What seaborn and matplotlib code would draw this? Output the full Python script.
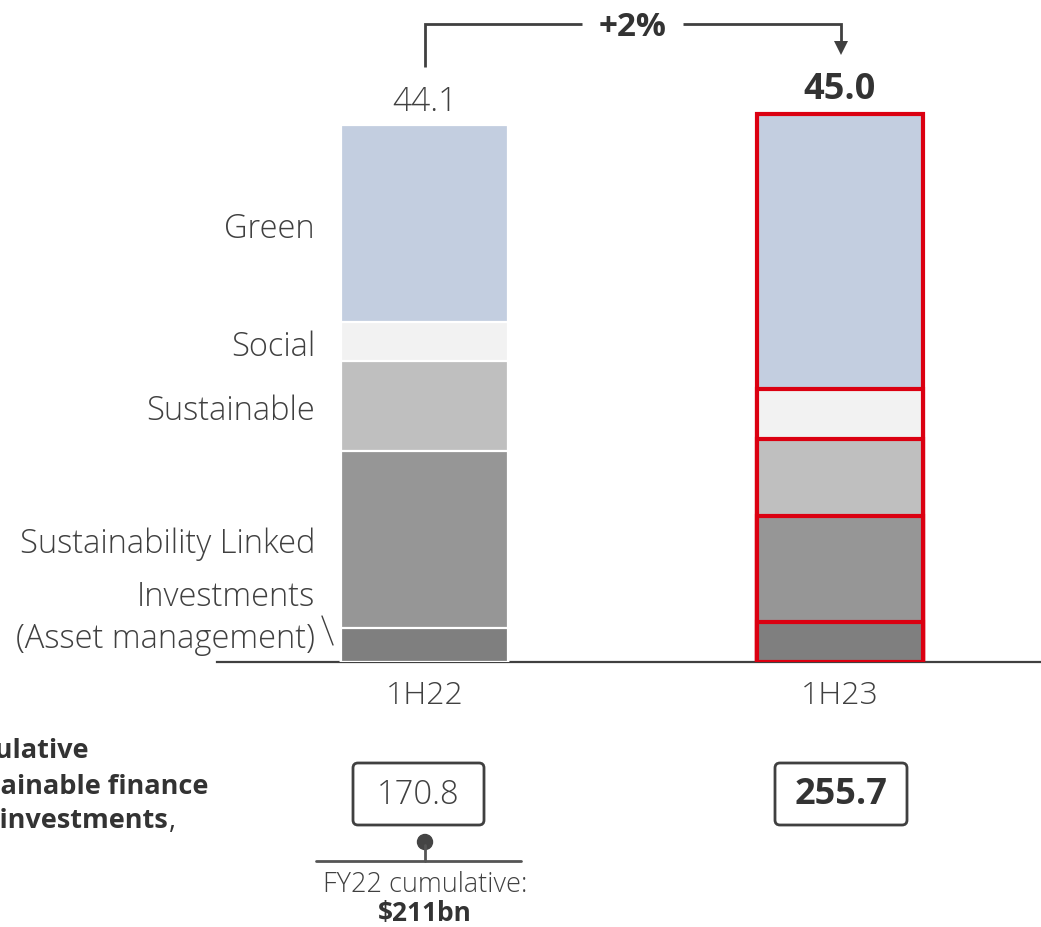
import matplotlib
matplotlib.use("Agg")
import matplotlib.pyplot as plt
from matplotlib.patches import FancyBboxPatch, Circle, Polygon
import seaborn as sns
import pandas as pd

# ---------------- data ----------------
periods = ["1H22", "1H23"]
investments = [2.8, 3.3]          # Investments (Asset management)
sust_linked = [14.5, 8.7]         # Sustainability Linked
sustainable = [7.4, 6.3]          # Sustainable
social = [3.2, 4.1]               # Social
green = [16.2, 22.6]              # Green
totals = [44.1, 45.0]
total_labels = ["44.1", "45.0"]
cumulative = ["170.8", "255.7"]
growth_label = "+2%"
fy22_label = "FY22 cumulative:"
fy22_value = "$211bn"
segment_names = ["Green", "Social", "Sustainable", "Sustainability Linked",
                 "Investments", "(Asset management)"]

sns.set_style("white")
FONT = ["Open Sans", "DejaVu Sans"]
plt.rcParams["font.family"] = FONT

W, H = 1041, 927
fig = plt.figure(figsize=(W / 100, H / 100), dpi=100)

TXT = "#404040"
DARK = "#333333"
RED = "#DB0011"
LW_T = 300  # light weight

px_per_unit = 12.18
ax = fig.add_axes([217 / W, (H - 662) / H, 824 / W, 662 / H])
ax.set_facecolor("none")

layers = [investments, sust_linked, sustainable, social, green]
colors = ["#7F7F7F", "#969696", "#BFBFBF", "#F2F2F2", "#C3CEE0"]
cum = []
run = [0.0, 0.0]
for lay in layers:
    run = [run[i] + lay[i] for i in range(2)]
    cum.append(list(run))

for idx in range(len(layers) - 1, -1, -1):
    df = pd.DataFrame({"period": periods, "value": cum[idx]})
    n_before = len(ax.patches)
    sns.barplot(data=df, x="period", y="value", color=colors[idx],
                saturation=1, width=0.4, ax=ax, errorbar=None)
    for p in ax.patches[n_before:]:
        cx = p.get_x() + p.get_width() / 2
        if cx < 0.5:
            p.set_edgecolor("white")
            p.set_linewidth(1.6)
        else:
            p.set_edgecolor(RED)
            p.set_linewidth(3.0)

a = -(424.5 - 217) / 415.5
ax.set_xlim(a, a + 824 / 415.5)
ax.set_ylim(0, 662 / px_per_unit)
ax.set_xlabel("")
ax.set_ylabel("")
ax.set_yticks([])
for s in ["left", "top", "right"]:
    ax.spines[s].set_visible(False)
ax.spines["bottom"].set_color(TXT)
ax.spines["bottom"].set_linewidth(1.6)
ax.spines["bottom"].set_zorder(0.5)
ax.tick_params(axis="x", length=0, pad=13, labelsize=23, labelcolor=TXT)
for lbl in ax.get_xticklabels():
    lbl.set_fontweight(LW_T)

ax.text(0, totals[0] + 0.45, total_labels[0], ha="center", va="bottom",
        fontsize=24, color=TXT, fontweight=LW_T)
ax.text(1, totals[1] + 0.5, total_labels[1], ha="center", va="bottom",
        fontsize=26, color=DARK, fontweight="bold")

# ---------------- overlay for annotations (pixel coords) ----------------
ov = fig.add_axes([0, 0, 1, 1], facecolor="none")
ov.set_xlim(0, W)
ov.set_ylim(H, 0)
ov.axis("off")

lab_y = [229, 347, 411, 544, 597, 639]
for name, y in zip(segment_names, lab_y):
    ov.text(315, y, name, ha="right", va="center", fontsize=23.5,
            color=TXT, fontweight=LW_T)
ov.plot([322, 333], [616, 645], color=TXT, lw=1.0)

lw = 2.0
ov.plot([425, 425, 582], [67, 24, 24], color=TXT, lw=lw,
        solid_joinstyle="miter", solid_capstyle="butt")
ov.plot([683, 841, 841], [24, 24, 42], color=TXT, lw=lw,
        solid_joinstyle="miter", solid_capstyle="butt")
ov.add_patch(Polygon([[834, 41], [848, 41], [841, 55]], closed=True,
                     color=TXT, lw=0))
ov.text(633, 27, growth_label, ha="center", va="center", fontsize=24,
        color=DARK, fontweight="bold")

for (x0, x1), txt, wt, fs in [((353, 484), cumulative[0], LW_T, 23.5),
                              ((775, 907), cumulative[1], "bold", 26)]:
    ov.add_patch(FancyBboxPatch((x0, 763), x1 - x0, 62,
                                boxstyle="round,pad=0,rounding_size=5",
                                fc="white", ec=TXT, lw=2.0))
    ov.text((x0 + x1) / 2, 795, txt, ha="center", va="center",
            fontsize=fs, color=DARK if wt == "bold" else TXT, fontweight=wt)

ov.plot([316, 521], [861, 861], color="#555555", lw=2.0)
ov.plot([425, 425], [845, 861], color="#555555", lw=2.0)
ov.add_patch(Circle((425, 842), 7.5, color="#444444"))
ov.text(425, 885, fy22_label, ha="center", va="center", fontsize=19.5,
        color=TXT, fontweight=LW_T)
ov.text(425, 913, fy22_value, ha="center", va="center", fontsize=19,
        color=DARK, fontweight="bold")

# title block, partly outside the left edge as in the reference
ov.text(89, 758, "Cumulative", ha="right", va="baseline", fontsize=19.5,
        color=DARK, fontweight="bold")
ov.text(208, 794, "sustainable finance", ha="right", va="baseline",
        fontsize=19.5, color=DARK, fontweight="bold")
ov.text(168, 828, "and investments", ha="right", va="baseline",
        fontsize=19.5, color=DARK, fontweight="bold")
ov.text(169, 828, ",", ha="left", va="baseline", fontsize=19.5,
        color=DARK, fontweight="normal")

fig.savefig("out.png", dpi=100)
